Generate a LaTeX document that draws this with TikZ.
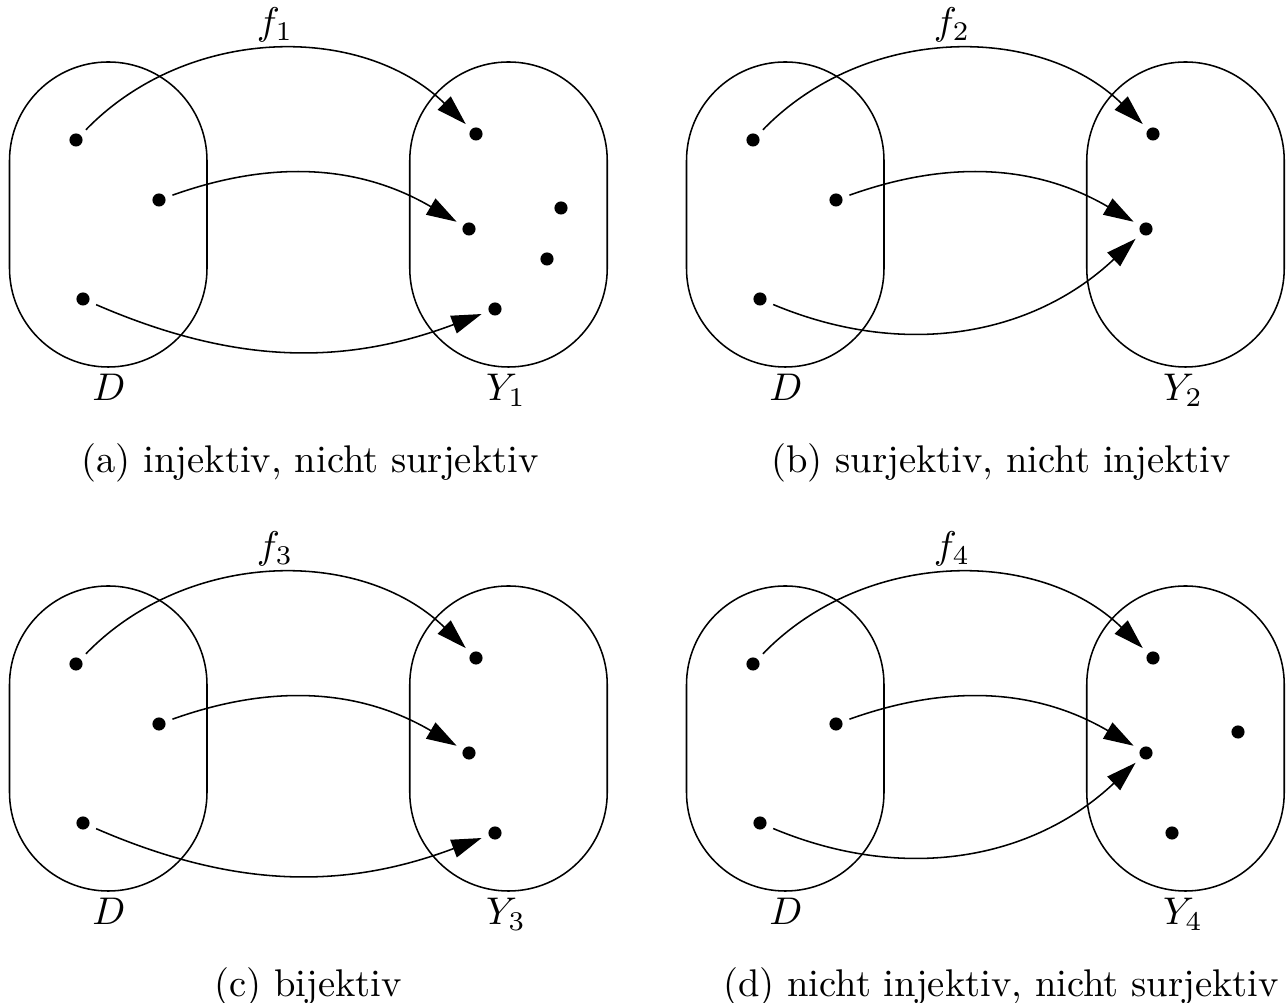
\documentclass[tikz,border=0pt]{standalone}
\usetikzlibrary{arrows.meta}
\tikzset{
  setbox/.style={draw, rectangle, rounded corners=25.58pt, minimum width=51.17pt,
    minimum height=79.03pt, inner sep=0pt, line width=0.4pt},
  dot/.style={circle, fill, inner sep=0pt, minimum size=3.4pt},
  lbl/.style={anchor=base, inner sep=0pt},
  arr/.style={-{Triangle[length=7.8pt,width=4.8pt]}, line width=0.4pt,
    shorten >=1.8pt, shorten <=1.8pt},
}
\newcommand{\basepanel}[4]{%
  \begin{scope}[shift={(#2,#3)}]
    \node[setbox] (#1D) at (108.25,788.5) {};
    \node[setbox] (#1Y) at (508.5,788.5) {};
    \node[dot] (#1L1) at (76,863) {};
    \node[dot] (#1L2) at (159,803) {};
    \node[dot] (#1L3) at (83,704) {};
    \node[lbl] (#1Dl) at (109,602) {$D$};
    \node[lbl] (#1Yl) at (506,602) {$Y_#4$};
    \node[lbl] (#1fl) at (275,968) {$f_#4$};
  \end{scope}}
\begin{document}
\begin{tikzpicture}[x=0.2591pt,y=0.2591pt]
\useasboundingbox (0,0) rectangle (1287,1003);

% (a)
\basepanel{a}{0}{0}{1}
\node[dot] (aRa) at (476,869) {};
\node[dot] (aRb) at (469,774) {};
\node[dot] (aRc) at (561,795) {};
\node[dot] (aRd) at (547,744) {};
\node[dot] (aRe) at (495,694) {};
\draw[arr] (aL1) to[bend left=45] (aRa);
\draw[arr] (aL2) to[bend left=25] (aRb);
\draw[arr] (aL3) to[bend right=22] (aRe);
\node[lbl] (capa) at (310,530) {(a) injektiv, nicht surjektiv};

% (b)
\basepanel{b}{677}{0}{2}
\begin{scope}[shift={(677,0)}]
\node[dot] (bRa) at (476,869) {};
\node[dot] (bRb) at (469,774) {};
\end{scope}
\draw[arr] (bL1) to[bend left=45] (bRa);
\draw[arr] (bL2) to[bend left=25] (bRb);
\draw[arr] (bL3) to[bend right=33] (bRb);
\node[lbl] (capb) at (1001,530) {(b) surjektiv, nicht injektiv};

% (c)
\basepanel{c}{0}{-524}{3}
\begin{scope}[shift={(0,-524)}]
\node[dot] (cRa) at (476,869) {};
\node[dot] (cRb) at (469,774) {};
\node[dot] (cRe) at (495,694) {};
\end{scope}
\draw[arr] (cL1) to[bend left=45] (cRa);
\draw[arr] (cL2) to[bend left=25] (cRb);
\draw[arr] (cL3) to[bend right=22] (cRe);
\node[lbl] (capc) at (308,6) {(c) bijektiv};

% (d)
\basepanel{d}{677}{-524}{4}
\begin{scope}[shift={(677,-524)}]
\node[dot] (dRa) at (476,869) {};
\node[dot] (dRb) at (469,774) {};
\node[dot] (dRc) at (561,795) {};
\node[dot] (dRe) at (495,694) {};
\end{scope}
\draw[arr] (dL1) to[bend left=45] (dRa);
\draw[arr] (dL2) to[bend left=25] (dRb);
\draw[arr] (dL3) to[bend right=33] (dRb);
\node[lbl] (capd) at (1001,6) {(d) nicht injektiv, nicht surjektiv};
\end{tikzpicture}
\end{document}
